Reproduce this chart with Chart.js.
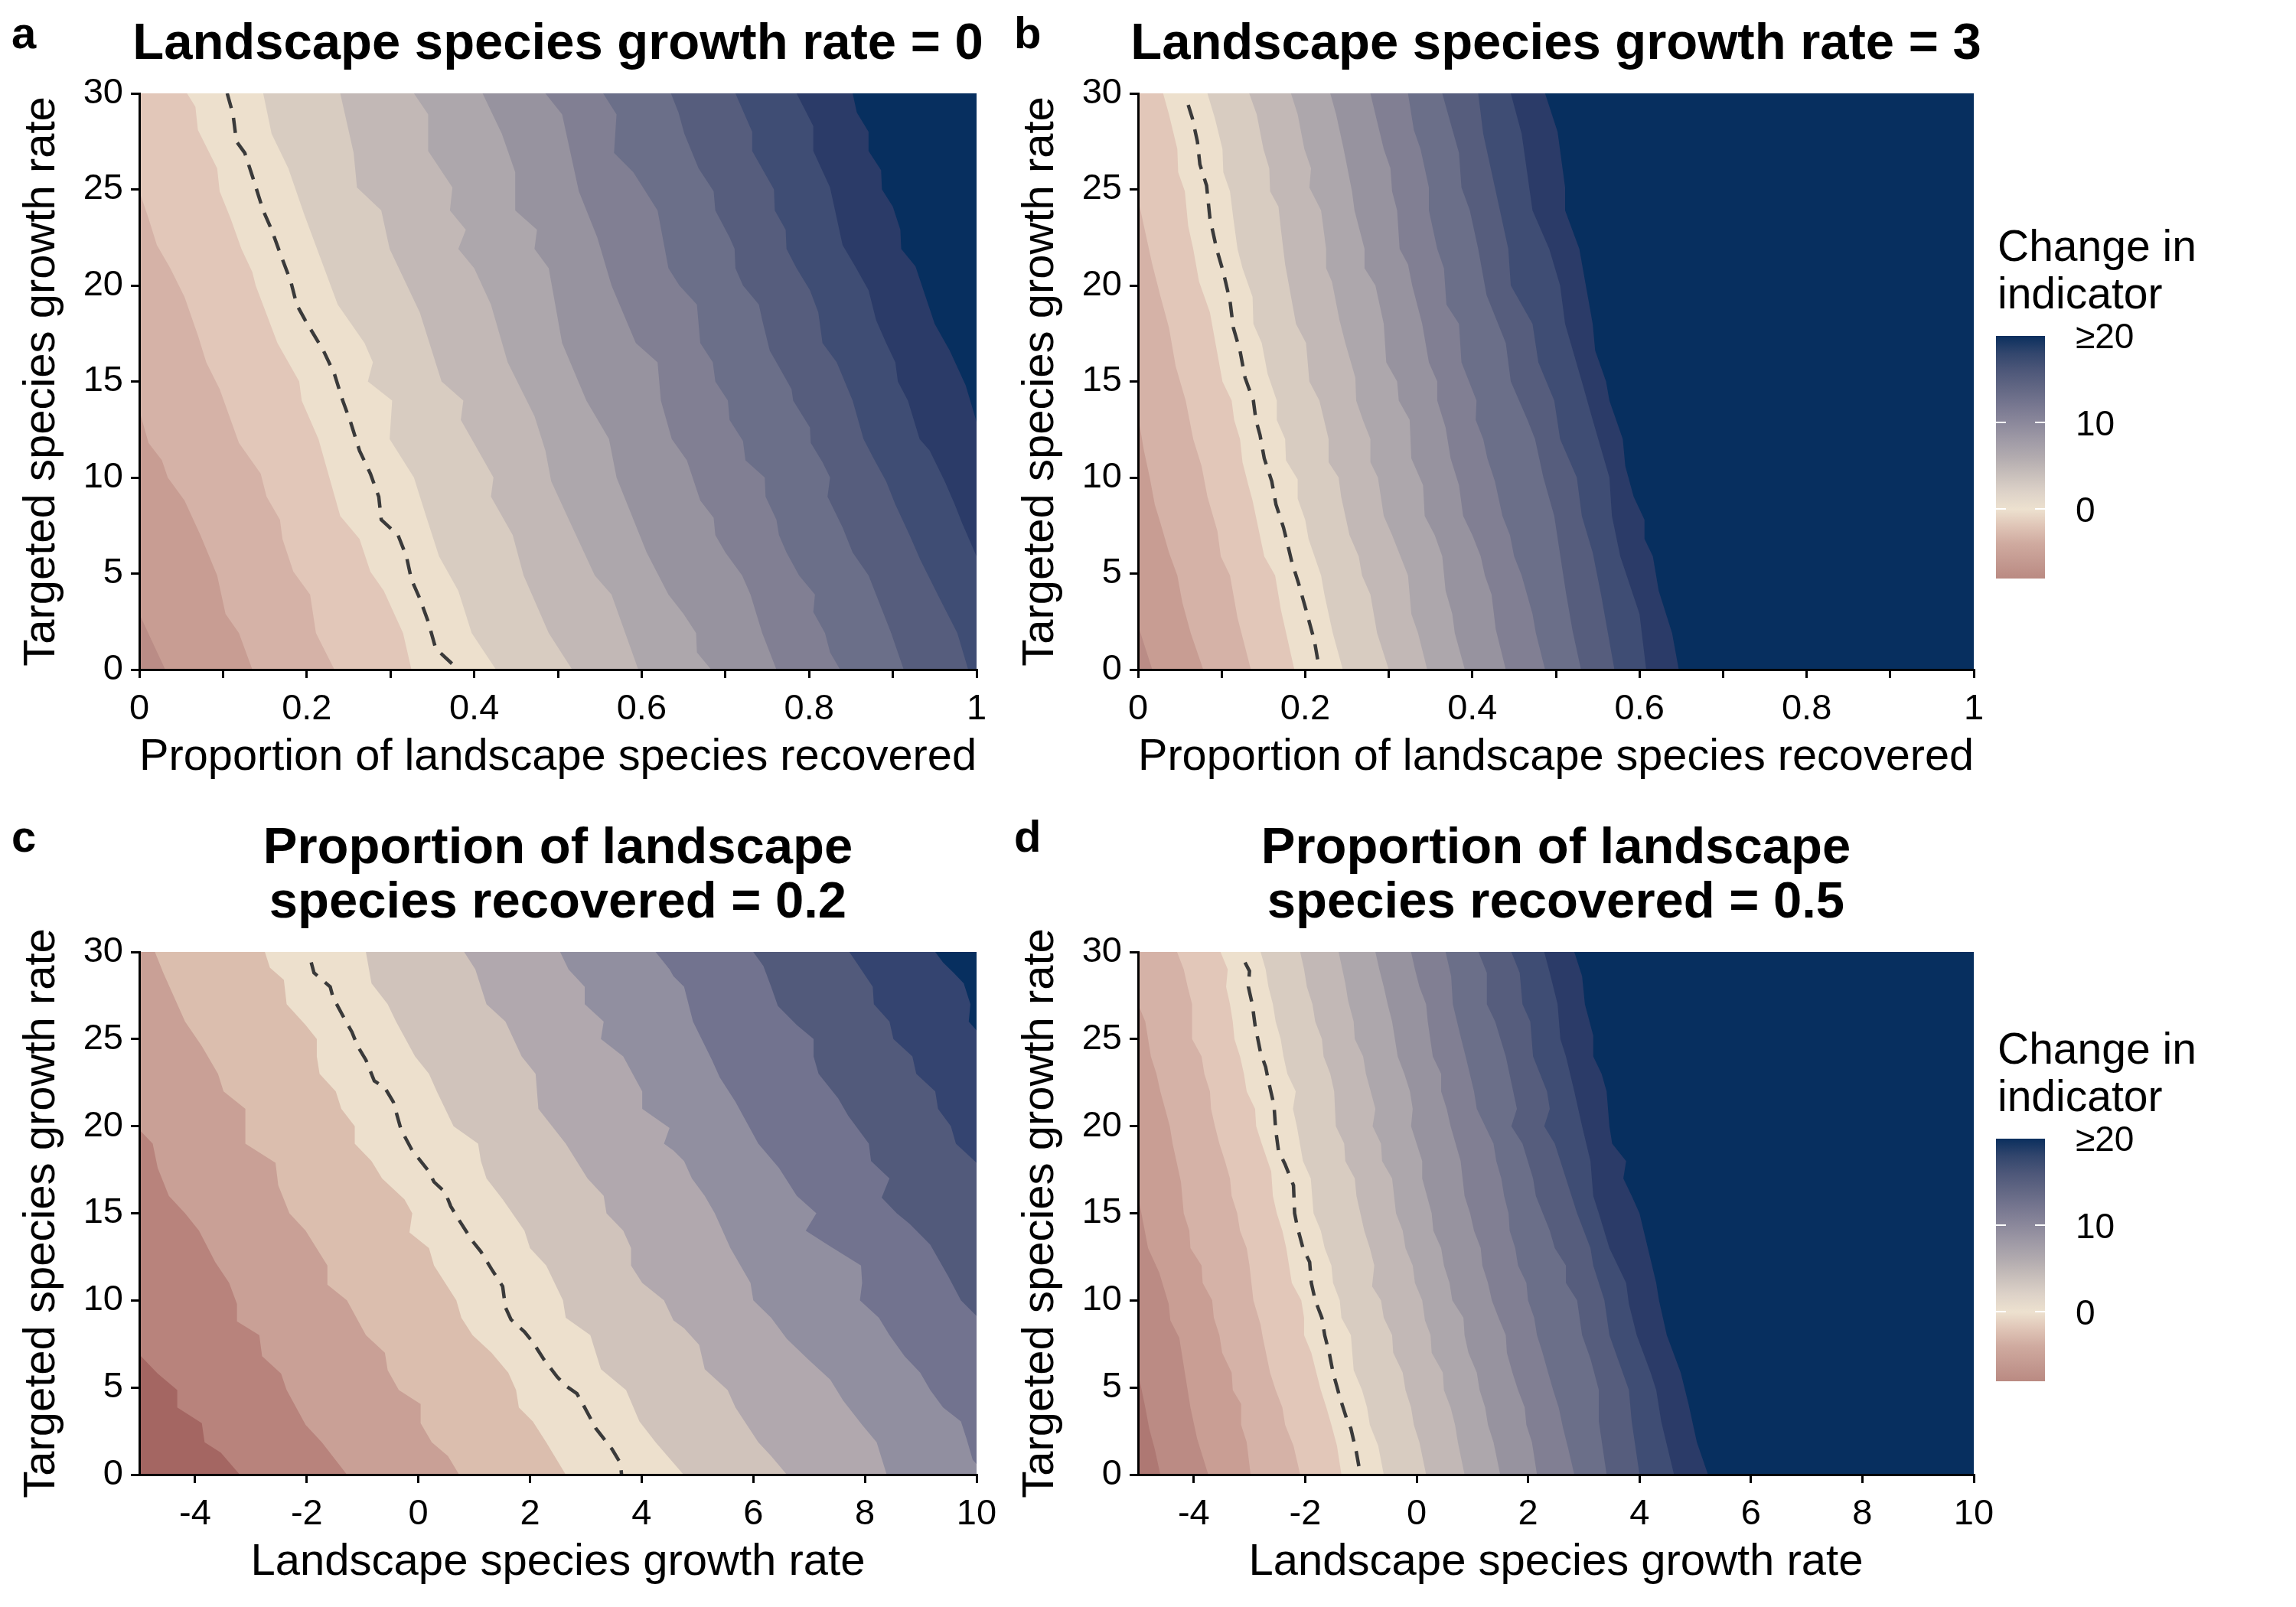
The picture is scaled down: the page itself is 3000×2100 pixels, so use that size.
<!DOCTYPE html>
<html>
<head>
<meta charset="utf-8">
<title>Change in indicator contour panels</title>
<script src="https://cdn.jsdelivr.net/npm/chart.js@4/dist/chart.umd.min.js"></script>
<style>
 html,body{margin:0;padding:0;background:#fff;}
 #root{position:relative;width:3000px;height:2100px;overflow:hidden;background:#fff;font-family:'Liberation Sans',Arial,Helvetica,sans-serif;color:#000;}
 #root canvas{position:absolute;}
 .t{position:absolute;white-space:nowrap;line-height:1;margin:0;}
 .b{font-weight:bold;}
</style>
</head>
<body>
<div id="root">
 <canvas id="cA" width="1330" height="1050" style="left:0px;top:0px"></canvas>
 <canvas id="cB" width="1330" height="1050" style="left:1305px;top:0px"></canvas>
 <canvas id="cC" width="1330" height="975" style="left:0px;top:1122px"></canvas>
 <canvas id="cD" width="1330" height="975" style="left:1305px;top:1122px"></canvas>

 <div class="t b" style="font-size:58px;left:15px;top:13.9px">a</div>
 <div class="t b" style="font-size:58px;left:1325px;top:13.9px">b</div>
 <div class="t b" style="font-size:58px;left:15px;top:1063.9px">c</div>
 <div class="t b" style="font-size:58px;left:1325px;top:1063.9px">d</div>

 <div class="t b" style="font-size:67px;left:29px;width:1400px;text-align:center;top:20.3px">Landscape species growth rate = 0</div>
 <div class="t b" style="font-size:67px;left:1333px;width:1400px;text-align:center;top:20.3px">Landscape species growth rate = 3</div>
 <div class="t b" style="font-size:67px;left:29px;width:1400px;text-align:center;top:1071.3px">Proportion of landscape</div>
 <div class="t b" style="font-size:67px;left:29px;width:1400px;text-align:center;top:1142.3px">species recovered = 0.2</div>
 <div class="t b" style="font-size:67px;left:1333px;width:1400px;text-align:center;top:1071.3px">Proportion of landscape</div>
 <div class="t b" style="font-size:67px;left:1333px;width:1400px;text-align:center;top:1142.3px">species recovered = 0.5</div>
</div>
<script>
// ---------------- axis ticks ----------------
const abXTicks = [0, 0.1, 0.2, 0.3, 0.4, 0.5, 0.6, 0.7, 0.8, 0.9, 1];
const abXTickLabels = ['0', '', '0.2', '', '0.4', '', '0.6', '', '0.8', '', '1'];
const cdXTicks = [-4, -2, 0, 2, 4, 6, 8, 10];
const cdXTickLabels = ['-4', '-2', '0', '2', '4', '6', '8', '10'];
const yTicks = [0, 5, 10, 15, 20, 25, 30];
const yTickLabels = ['0', '5', '10', '15', '20', '25', '30'];
const abXRange = [0, 1];
const cdXRange = [-5, 10];
const yRange = [0, 30];

// ---------------- band colours (low -> high) ----------------
const abBandColors = ['#BA8C86','#C89D93','#D5B2A7','#E2C7B9','#EDE0CD','#D8CCC1','#C2B8B6','#ADA7AC','#97939F','#817F93','#6B6F89','#565D7D','#3F4D74','#2B3B68','#072F5F'];
const cBandColors = ['#A46662','#B8837C','#C9A096','#DBBEAE','#EDE0CD','#D0C3BB','#B1A8AE','#918FA0','#72738F','#525A7B','#344470','#072F5F'];
const dBandColors = ['#AE7873','#BB8B84','#C99E94','#D5B2A7','#E2C7B9','#EDE0CD','#D8CCC1','#C2B8B6','#ADA7AC','#97939F','#817F93','#6B6F89','#565D7D','#3F4D74','#2B3B68','#072F5F'];

// ---------------- panel a: band boundaries [x, y], listed top -> bottom ----------------
const aBounds = [
 [[0,2.9],[0.031,0]],
 [[0,13.5],[0.011,11.8],[0.027,10.9],[0.034,10.0],[0.054,8.8],[0.073,7.0],[0.093,4.9],[0.103,2.9],[0.119,1.9],[0.135,0]],
 [[0,24.9],[0.011,23.5],[0.021,22.1],[0.037,20.9],[0.054,19.4],[0.070,17.4],[0.080,16.0],[0.096,14.6],[0.119,11.8],[0.145,10.2],[0.152,9.0],[0.168,7.8],[0.171,6.8],[0.184,5.1],[0.204,3.9],[0.211,1.9],[0.233,0]],
 [[0.057,30],[0.067,29.3],[0.070,28.1],[0.093,26.1],[0.096,24.9],[0.109,23.5],[0.122,21.9],[0.135,20.7],[0.139,20.0],[0.165,17.0],[0.191,15.0],[0.194,14.0],[0.214,12.0],[0.240,8.0],[0.263,6.8],[0.276,5.1],[0.292,4.1],[0.315,1.9],[0.325,0]],
 [[0.148,30],[0.158,27.9],[0.178,26.1],[0.197,23.7],[0.237,19.0],[0.269,17.0],[0.279,16.0],[0.273,15.0],[0.302,14.0],[0.299,12.0],[0.328,10.0],[0.341,8.2],[0.358,5.9],[0.381,4.1],[0.397,1.9],[0.426,0]],
 [[0.240,30],[0.256,26.9],[0.260,25.1],[0.289,23.9],[0.299,21.9],[0.335,18.6],[0.361,15.0],[0.387,14.0],[0.384,13.0],[0.397,12.0],[0.423,10.0],[0.420,9.0],[0.446,7.0],[0.459,4.9],[0.489,1.9],[0.517,0]],
 [[0.328,30],[0.345,28.9],[0.345,27.0],[0.374,25.1],[0.371,23.9],[0.390,22.9],[0.381,21.9],[0.400,20.9],[0.420,19.0],[0.440,16.0],[0.472,13.2],[0.485,11.4],[0.492,9.8],[0.511,8.0],[0.544,4.9],[0.564,3.9],[0.596,0]],
 [[0.410,30],[0.433,27.9],[0.449,25.9],[0.449,23.9],[0.475,22.9],[0.472,21.9],[0.489,20.9],[0.505,17.0],[0.534,14.0],[0.561,12.0],[0.570,10.0],[0.606,6.1],[0.632,3.9],[0.650,2.9],[0.665,1.9],[0.666,0.9],[0.683,0]],
 [[0.485,30],[0.505,28.9],[0.525,24.9],[0.547,22.5],[0.564,20.0],[0.593,17.0],[0.619,16.0],[0.623,14.0],[0.636,12.0],[0.654,10.9],[0.670,8.8],[0.686,7.9],[0.688,7.0],[0.700,6.1],[0.720,4.9],[0.730,3.9],[0.744,1.9],[0.761,0]],
 [[0.554,30],[0.570,28.9],[0.567,26.9],[0.590,25.9],[0.619,23.9],[0.632,20.9],[0.645,20.0],[0.666,19.0],[0.670,17.0],[0.685,16.0],[0.688,15.0],[0.703,14.0],[0.705,13.0],[0.721,11.9],[0.724,10.9],[0.747,10.0],[0.748,9.0],[0.761,7.8],[0.764,7.0],[0.773,6.1],[0.788,4.9],[0.807,3.9],[0.805,3.0],[0.819,1.9],[0.825,0.9],[0.837,0]],
 [[0.635,30],[0.644,29.0],[0.651,27.9],[0.668,26.1],[0.686,24.9],[0.688,23.9],[0.705,22.5],[0.711,21.9],[0.712,20.9],[0.721,20.0],[0.740,19.0],[0.744,18.2],[0.753,16.6],[0.761,16.0],[0.779,14.6],[0.781,14.0],[0.801,12.6],[0.802,11.8],[0.816,10.8],[0.825,10.0],[0.822,9.0],[0.840,7.4],[0.852,6.1],[0.871,4.9],[0.880,3.9],[0.898,1.9],[0.913,0]],
 [[0.712,30],[0.732,28.0],[0.732,27.0],[0.758,25.0],[0.759,23.9],[0.772,22.9],[0.773,21.9],[0.785,20.9],[0.801,19.75],[0.811,18.6],[0.816,17.0],[0.833,16.0],[0.852,14.0],[0.865,12.0],[0.877,11.0],[0.892,9.8],[0.903,8.6],[0.920,7.0],[0.933,5.7],[0.956,3.7],[0.977,1.9],[0.990,0]],
 [[0.785,30],[0.805,28.3],[0.805,27.0],[0.825,25.1],[0.831,23.9],[0.840,22.1],[0.855,21.0],[0.871,19.75],[0.880,18.2],[0.892,17.0],[0.903,16.0],[0.906,15.0],[0.918,14.0],[0.932,12.0],[0.944,11.4],[0.962,9.8],[0.974,8.6],[0.983,7.6],[1,5.9]],
 [[0.852,30],[0.857,29.0],[0.871,28.0],[0.871,27.0],[0.886,26.0],[0.887,25.0],[0.900,24.1],[0.909,22.9],[0.910,21.9],[0.927,21.0],[0.950,18.0],[0.968,16.6],[0.987,14.8],[1,12.9]]
];
const aZero = [[0.105,30],[0.112,28.9],[0.116,27.5],[0.126,26.9],[0.135,25.7],[0.148,23.9],[0.158,22.9],[0.168,21.7],[0.181,20.2],[0.188,19.0],[0.198,18.2],[0.220,16.6],[0.233,15.4],[0.243,14.0],[0.253,12.8],[0.263,11.4],[0.276,10.2],[0.286,9.0],[0.289,7.8],[0.309,7.0],[0.319,5.9],[0.325,4.7],[0.335,3.7],[0.345,2.5],[0.354,1.1],[0.381,0]];

// ---------------- panel b ----------------
const bBounds = [
 [[0,2.3],[0.017,0]],
 [[0,13.2],[0.007,11.4],[0.014,10.0],[0.020,8.6],[0.027,7.6],[0.037,6.1],[0.047,4.9],[0.053,3.5],[0.063,1.9],[0.078,0]],
 [[0,24.5],[0.007,23.1],[0.017,21.1],[0.027,19.4],[0.037,17.8],[0.045,15.8],[0.057,14.0],[0.066,12.0],[0.076,10.6],[0.083,9.0],[0.095,7.2],[0.099,5.9],[0.110,4.9],[0.119,2.7],[0.135,0]],
 [[0.030,30],[0.037,28.9],[0.047,27.1],[0.048,25.9],[0.056,24.9],[0.060,23.1],[0.066,21.9],[0.073,20.2],[0.086,18.6],[0.096,16.2],[0.101,15.0],[0.112,14.0],[0.115,13.0],[0.122,12.0],[0.125,10.8],[0.132,9.6],[0.137,8.8],[0.151,5.9],[0.164,4.9],[0.171,3.1],[0.187,0]],
 [[0.083,30],[0.092,28.7],[0.101,27.1],[0.102,25.9],[0.110,24.9],[0.114,23.5],[0.119,21.9],[0.125,20.9],[0.137,19.4],[0.138,18.0],[0.148,17.0],[0.155,15.4],[0.166,14.0],[0.166,13.0],[0.176,12.0],[0.177,10.9],[0.191,9.9],[0.191,8.9],[0.200,7.8],[0.204,6.8],[0.219,4.9],[0.223,3.9],[0.233,1.9],[0.245,0]],
 [[0.133,30],[0.142,28.9],[0.150,27.1],[0.157,26.1],[0.158,24.9],[0.168,24.1],[0.171,22.9],[0.176,21.1],[0.189,18.0],[0.201,17.0],[0.205,15.0],[0.217,14.0],[0.228,12.0],[0.228,10.8],[0.240,10.0],[0.243,9.0],[0.253,7.0],[0.264,5.9],[0.268,4.9],[0.278,3.9],[0.286,1.9],[0.300,0]],
 [[0.183,30],[0.191,28.9],[0.199,27.1],[0.207,26.1],[0.205,25.1],[0.219,23.9],[0.225,21.9],[0.225,20.9],[0.232,20.2],[0.241,18.2],[0.248,17.0],[0.260,15.2],[0.261,14.0],[0.269,13.0],[0.278,12.0],[0.278,10.8],[0.287,10.0],[0.294,8.0],[0.304,7.0],[0.314,5.9],[0.323,4.9],[0.327,2.9],[0.335,1.9],[0.346,0]],
 [[0.230,30],[0.237,28.9],[0.246,27.1],[0.256,24.9],[0.259,23.9],[0.271,21.9],[0.271,20.9],[0.284,20.0],[0.294,18.0],[0.297,16.0],[0.310,15.0],[0.312,14.0],[0.325,13.0],[0.327,11.0],[0.341,9.6],[0.343,8.0],[0.355,7.0],[0.364,5.9],[0.368,4.1],[0.376,2.9],[0.379,1.9],[0.391,0]],
 [[0.278,30],[0.284,28.9],[0.294,27.1],[0.302,26.1],[0.304,24.9],[0.310,23.9],[0.313,21.9],[0.323,21.1],[0.328,20.0],[0.340,18.0],[0.348,16.0],[0.358,15.0],[0.358,14.0],[0.368,12.6],[0.374,11.0],[0.384,9.6],[0.389,8.0],[0.400,7.0],[0.410,5.9],[0.415,4.9],[0.423,3.9],[0.428,2.1],[0.440,0]],
 [[0.323,30],[0.330,28.1],[0.338,27.1],[0.348,25.1],[0.348,23.9],[0.358,21.9],[0.366,20.9],[0.369,19.0],[0.384,18.0],[0.387,16.0],[0.405,14.0],[0.404,13.0],[0.413,12.0],[0.418,11.0],[0.427,9.8],[0.436,8.0],[0.445,7.0],[0.450,5.9],[0.459,4.9],[0.472,2.9],[0.476,1.9],[0.487,0]],
 [[0.364,30],[0.371,28.9],[0.384,26.9],[0.387,25.1],[0.397,23.9],[0.407,21.9],[0.417,19.5],[0.440,17.0],[0.446,15.0],[0.466,13.0],[0.475,12.0],[0.485,10.0],[0.498,8.0],[0.505,6.0],[0.512,4.0],[0.520,2.0],[0.530,0]],
 [[0.407,30],[0.413,27.9],[0.423,25.9],[0.433,23.9],[0.443,21.9],[0.446,20.0],[0.472,18.0],[0.479,16.0],[0.498,14.0],[0.505,12.0],[0.525,10.0],[0.531,8.0],[0.544,6.1],[0.554,3.9],[0.570,0]],
 [[0.446,30],[0.459,27.9],[0.472,23.9],[0.492,21.9],[0.505,20.0],[0.511,18.0],[0.531,15.0],[0.544,13.0],[0.564,10.0],[0.567,8.0],[0.577,5.9],[0.600,2.9],[0.608,0]],
 [[0.487,30],[0.502,28.0],[0.511,25.1],[0.511,23.9],[0.528,21.9],[0.544,18.0],[0.547,16.6],[0.560,15.0],[0.564,14.0],[0.580,12.0],[0.583,10.6],[0.593,9.0],[0.606,7.8],[0.606,6.8],[0.616,5.9],[0.623,4.1],[0.639,1.9],[0.647,0]]
];
const bZero = [[0.060,29.4],[0.065,28.7],[0.071,27.5],[0.074,26.3],[0.082,25.2],[0.086,23.5],[0.094,21.9],[0.102,20.7],[0.110,19.2],[0.114,17.8],[0.122,16.6],[0.128,15.2],[0.138,14.0],[0.141,13.0],[0.146,12.2],[0.151,11.0],[0.160,9.8],[0.165,8.6],[0.174,7.4],[0.178,6.7],[0.184,5.6],[0.192,4.5],[0.201,3.1],[0.211,1.5],[0.217,0]];

// ---------------- panel c ----------------
const cBounds = [
 [[-5,6.9],[-4.67,5.8],[-4.32,4.85],[-4.32,3.85],[-3.88,2.95],[-3.83,1.86],[-3.54,1.26],[-3.20,0]],
 [[-5,19.8],[-4.76,19.0],[-4.67,17.6],[-4.47,16.0],[-4.18,15.0],[-3.93,14.0],[-3.64,12.2],[-3.39,11.0],[-3.25,9.8],[-3.25,8.8],[-2.85,8.0],[-2.80,6.8],[-2.46,5.8],[-2.36,4.85],[-2.02,2.85],[-1.73,1.86],[-1.28,0]],
 [[-4.72,30],[-4.57,28.8],[-4.18,26.0],[-3.88,24.6],[-3.59,23.0],[-3.49,22.0],[-3.10,21.0],[-3.10,19.0],[-2.56,17.9],[-2.51,16.6],[-2.31,15.0],[-2.02,14.0],[-1.63,12.0],[-1.63,10.9],[-1.28,10.0],[-0.94,8.0],[-0.60,7.0],[-0.55,6.0],[-0.35,4.85],[0.04,4.05],[0.04,2.95],[0.24,1.86],[0.53,1.06],[0.73,0]],
 [[-2.75,30],[-2.66,29.1],[-2.41,28.4],[-2.36,27.0],[-2.02,25.8],[-1.82,25.0],[-1.82,24.0],[-1.77,23.0],[-1.48,22.0],[-1.38,21.0],[-1.14,20.0],[-1.14,19.0],[-0.84,18.0],[-0.65,17.0],[-0.25,15.8],[-0.11,15.0],[-0.16,13.9],[0.19,13.0],[0.28,12.0],[0.48,11.0],[0.68,10.0],[0.77,9.0],[0.97,8.0],[1.31,7.0],[1.61,5.85],[1.75,4.85],[1.80,3.85],[2.05,3.05],[2.29,1.86],[2.64,0]],
 [[-0.94,30],[-0.84,28.2],[-0.55,27.0],[-0.40,26.0],[-0.06,24.0],[0.19,23.0],[0.33,22.0],[0.63,20.0],[1.07,19.0],[1.12,18.0],[1.22,17.0],[1.51,15.8],[1.90,14.0],[2.00,13.0],[2.29,12.0],[2.59,10.0],[2.64,9.0],[3.08,8.0],[3.27,6.05],[3.72,4.85],[3.96,3.05],[4.25,1.86],[4.75,0]],
 [[0.82,30],[1.02,29.0],[1.22,27.0],[1.56,26.0],[1.85,24.0],[2.10,23.0],[2.15,21.0],[2.64,19.0],[3.03,17.0],[3.32,16.0],[3.37,15.0],[3.67,14.0],[3.81,13.0],[3.81,12.0],[4.01,11.0],[4.40,10.0],[4.57,8.85],[4.76,8.4],[5.03,7.45],[5.13,6.05],[5.54,4.85],[5.68,3.85],[6.09,1.86],[6.32,1.06],[6.60,0]],
 [[2.54,30],[2.69,29.0],[2.98,28.0],[2.98,27.0],[3.32,26.0],[3.27,25.0],[3.67,24.0],[4.01,22.0],[4.01,21.0],[4.50,19.9],[4.40,19.0],[4.57,18.6],[4.76,18.0],[4.90,17.0],[5.13,16.0],[5.31,15.0],[5.59,13.0],[5.95,11.0],[6.0,10.0],[6.32,9.0],[6.60,7.8],[6.97,6.65],[7.38,5.45],[7.61,4.25],[7.95,2.85],[8.21,1.86],[8.39,0]],
 [[4.25,30],[4.50,29.0],[4.57,28.6],[4.76,28.0],[4.92,26.0],[5.26,23.8],[5.40,22.8],[5.68,21.4],[6.09,19.0],[6.46,17.6],[6.78,16.0],[7.13,15.0],[6.94,14.0],[7.33,13.2],[7.93,12.0],[7.95,11.0],[7.91,10.0],[8.25,9.0],[8.44,8.0],[8.71,6.8],[8.99,5.85],[9.17,4.85],[9.40,3.85],[9.72,3.05],[9.82,2.06],[9.93,0.86],[10,0.6]],
 [[6.0,30],[6.18,29.2],[6.32,28.0],[6.44,26.9],[6.78,25.8],[7.08,25.0],[7.08,24.0],[7.17,23.0],[7.52,21.6],[7.70,20.6],[8.07,19.0],[8.11,18.0],[8.44,17.0],[8.30,15.9],[8.57,15.0],[8.80,14.4],[9.17,13.2],[9.49,11.4],[9.72,10.0],[10,9.1]],
 [[7.72,30],[7.89,29.2],[8.14,28.0],[8.16,27.0],[8.44,26.0],[8.51,25.0],[8.85,24.0],[8.92,23.0],[9.26,22.0],[9.31,21.0],[9.54,20.0],[9.63,19.0],[10,17.9]],
 [[9.26,30],[9.40,29.4],[9.59,28.8],[9.77,28.2],[9.89,27.0],[9.86,26.0],[10,25.5]]
];
const cZero = [[-1.92,29.4],[-1.87,28.8],[-1.58,28.0],[-1.53,27.4],[-1.33,26.2],[-1.19,25.4],[-1.09,24.6],[-0.94,23.8],[-0.79,22.6],[-0.60,22.2],[-0.45,21.4],[-0.31,19.8],[-0.11,18.6],[0.19,17.4],[0.28,16.8],[0.48,16.2],[0.58,15.4],[0.73,14.6],[0.97,13.4],[1.12,12.8],[1.31,11.8],[1.51,10.8],[1.56,9.6],[1.66,8.9],[1.90,8.2],[2.05,7.6],[2.25,6.6],[2.49,5.6],[2.64,5.1],[2.84,4.65],[2.98,3.85],[3.18,2.65],[3.47,1.46],[3.62,0.66],[3.64,0]];

// ---------------- panel d ----------------
const dBounds = [
 [[-5,5.85],[-4.87,3.85],[-4.80,2.65],[-4.70,1.46],[-4.60,0]],
 [[-5,16.0],[-4.82,13.0],[-4.62,11.6],[-4.45,9.8],[-4.42,8.85],[-4.26,7.85],[-4.16,5.85],[-4.06,3.85],[-3.94,2.06],[-3.74,0]],
 [[-5,27.0],[-4.87,26.0],[-4.77,24.0],[-4.67,23.0],[-4.60,22.0],[-4.43,20.0],[-4.38,19.0],[-4.23,16.8],[-4.18,15.0],[-4.08,14.0],[-4.06,13.0],[-3.86,12.0],[-3.84,11.0],[-3.67,10.0],[-3.64,9.0],[-3.54,8.0],[-3.49,7.0],[-3.32,5.85],[-3.30,4.85],[-3.15,4.05],[-3.15,2.85],[-3.05,1.86],[-2.98,0]],
 [[-4.30,30],[-4.18,29.0],[-4.11,28.0],[-4.03,27.0],[-4.03,25.0],[-3.86,24.0],[-3.81,23.0],[-3.71,22.0],[-3.69,21.0],[-3.62,20.0],[-3.54,19.0],[-3.44,18.0],[-3.35,17.0],[-3.32,16.0],[-3.22,15.0],[-3.17,14.0],[-3.05,13.0],[-3.00,12.0],[-2.93,10.0],[-2.80,8.6],[-2.76,7.85],[-2.63,5.85],[-2.53,4.85],[-2.41,3.85],[-2.36,2.85],[-2.21,1.66],[-2.09,0]],
 [[-3.52,30],[-3.39,29.0],[-3.42,28.0],[-3.35,27.0],[-3.30,26.0],[-3.27,25.0],[-3.17,24.0],[-3.10,23.0],[-3.05,22.0],[-2.90,21.0],[-2.88,20.0],[-2.78,19.0],[-2.61,17.4],[-2.58,16.0],[-2.51,15.0],[-2.41,14.0],[-2.34,13.0],[-2.24,11.0],[-2.07,10.0],[-2.02,9.0],[-2.02,8.0],[-1.89,7.0],[-1.80,5.85],[-1.72,4.85],[-1.62,3.85],[-1.53,2.85],[-1.43,1.66],[-1.35,0]],
 [[-2.80,30],[-2.71,29.0],[-2.66,28.0],[-2.58,27.0],[-2.53,26.0],[-2.44,25.0],[-2.39,24.0],[-2.32,23.0],[-2.17,22.0],[-2.22,21.0],[-2.15,20.0],[-2.04,18.0],[-1.90,17.0],[-1.85,15.0],[-1.72,14.0],[-1.65,13.0],[-1.53,12.0],[-1.50,11.0],[-1.38,10.0],[-1.35,9.0],[-1.18,8.0],[-1.13,6.0],[-0.98,4.85],[-0.89,3.85],[-0.84,2.85],[-0.69,1.66],[-0.59,0]],
 [[-2.09,30],[-2.02,29.0],[-1.97,28.0],[-1.87,27.0],[-1.82,26.0],[-1.70,25.0],[-1.67,24.0],[-1.55,23.0],[-1.48,22.0],[-1.45,20.0],[-1.30,19.0],[-1.28,18.0],[-1.11,17.0],[-1.08,16.0],[-1.01,15.0],[-0.94,14.0],[-0.84,13.0],[-0.76,12.0],[-0.80,10.8],[-0.64,10.0],[-0.59,9.0],[-0.44,8.0],[-0.42,7.0],[-0.25,5.85],[-0.20,4.85],[-0.10,3.85],[-0.05,2.85],[0.05,1.86],[0.17,0]],
 [[-1.40,30],[-1.28,28.2],[-1.23,27.2],[-1.13,26.0],[-1.11,25.0],[-0.96,24.0],[-0.91,23.0],[-0.74,21.0],[-0.79,20.0],[-0.64,19.0],[-0.62,18.0],[-0.44,17.0],[-0.37,15.0],[-0.25,14.0],[-0.20,13.0],[-0.07,12.0],[-0.03,11.0],[0.10,10.0],[0.15,8.85],[0.25,8.0],[0.27,7.0],[0.47,5.85],[0.49,4.85],[0.61,3.85],[0.69,2.85],[0.74,1.86],[0.86,0]],
 [[-0.74,30],[-0.67,29.0],[-0.59,28.0],[-0.52,27.0],[-0.44,26.0],[-0.34,24.0],[-0.22,23.0],[-0.12,22.0],[-0.07,21.0],[-0.10,20.0],[0.10,18.0],[0.10,17.0],[0.27,15.0],[0.30,14.0],[0.44,13.0],[0.49,12.0],[0.59,11.0],[0.64,10.0],[0.84,9.0],[0.86,8.0],[0.93,7.0],[1.08,5.85],[1.13,4.85],[1.23,3.85],[1.28,2.85],[1.38,1.86],[1.50,0]],
 [[-0.10,30],[-0.03,29.0],[0.05,28.0],[0.17,27.0],[0.20,26.0],[0.29,24.0],[0.44,23.0],[0.44,22.0],[0.54,21.0],[0.61,20.0],[0.79,18.0],[0.86,16.0],[0.96,15.0],[1.03,14.0],[1.15,13.0],[1.18,12.0],[1.28,11.0],[1.35,10.0],[1.47,9.0],[1.60,8.0],[1.62,7.0],[1.72,5.85],[1.82,4.85],[1.94,3.85],[1.97,2.85],[2.07,1.86],[2.16,0]],
 [[0.52,30],[0.62,28.6],[0.65,27.0],[0.80,25.0],[0.88,24.0],[1.03,22.0],[1.08,21.0],[1.23,20.0],[1.38,19.0],[1.43,18.0],[1.52,17.0],[1.57,16.0],[1.65,15.0],[1.67,14.0],[1.77,13.0],[1.82,12.0],[1.97,11.0],[2.00,10.0],[2.11,9.0],[2.16,8.0],[2.26,7.0],[2.36,5.85],[2.45,4.85],[2.55,3.85],[2.63,2.65],[2.72,1.5],[2.83,0]],
 [[1.11,30],[1.26,28.8],[1.26,27.0],[1.41,26.0],[1.60,24.0],[1.80,21.0],[1.70,20.0],[1.90,19.0],[2.09,17.0],[2.14,16.0],[2.39,14.0],[2.48,13.0],[2.68,12.0],[2.68,11.0],[2.88,10.0],[2.97,8.0],[3.12,6.65],[3.27,4.85],[3.27,3.05],[3.41,0]],
 [[1.70,30],[1.85,28.8],[1.90,27.0],[2.04,26.0],[2.09,24.0],[2.34,22.0],[2.39,21.0],[2.29,20.0],[2.48,19.0],[2.68,17.0],[2.78,16.0],[2.88,15.0],[3.12,13.0],[3.17,12.0],[3.27,11.0],[3.37,10.0],[3.46,8.0],[3.61,6.65],[3.81,4.85],[3.86,3.05],[4.00,0]],
 [[2.29,30],[2.39,28.8],[2.53,27.0],[2.58,25.0],[2.68,24.0],[2.83,22.0],[2.97,20.0],[3.12,18.0],[3.17,16.0],[3.27,15.0],[3.46,13.0],[3.76,11.0],[3.81,9.8],[3.95,8.0],[4.20,5.85],[4.30,4.85],[4.39,3.05],[4.62,0]],
 [[2.83,30],[2.97,28.6],[3.02,27.0],[3.17,25.2],[3.17,24.0],[3.32,23.0],[3.41,22.0],[3.46,20.0],[3.51,19.0],[3.76,18.0],[3.71,17.0],[3.86,16.0],[4.00,15.0],[4.15,13.0],[4.30,11.0],[4.35,10.0],[4.49,8.0],[4.74,5.85],[4.88,4.05],[5.03,1.86],[5.23,0]]
];
const dZero = [[-3.08,29.4],[-3.0,28.9],[-3.02,28.0],[-2.95,27.0],[-2.90,25.8],[-2.80,24.2],[-2.71,23.4],[-2.66,22.6],[-2.56,21.2],[-2.53,19.8],[-2.48,18.6],[-2.36,17.8],[-2.26,17.0],[-2.21,16.6],[-2.19,15.0],[-2.14,14.2],[-2.04,13.0],[-1.92,12.2],[-1.89,11.0],[-1.82,10.0],[-1.70,9.0],[-1.65,8.0],[-1.57,7.0],[-1.50,5.85],[-1.43,5.05],[-1.38,4.45],[-1.26,3.25],[-1.18,2.65],[-1.08,1.26],[-1.01,0]];

// ---------------- legend ----------------
const legendRange = [-8, 20];
const legendTickValues = [0, 10, 20];
const legendTickLabels = ['0', '10', '\u226520'];
const legendStops = [[-8,'#BA8A82'],[-6,'#C49A91'],[-4,'#CFAA9F'],[-2,'#DFC4B6'],[0,'#EDE1CF'],[2,'#DDD2C8'],[4,'#C8BFBB'],[6,'#B2ABAF'],[8,'#9F9AA6'],[10,'#8B889B'],[12,'#777790'],[14,'#626784'],[16,'#4D5779'],[18,'#32466D'],[20,'#0B2F5E']];

// =====================================================================
Chart.defaults.font.family = "'Liberation Sans', Arial, Helvetica, sans-serif";
Chart.defaults.color = '#000';
const XAXIS_H = 150;

function toPts(arr) { return arr.map(p => ({x: p[0], y: p[1]})); }

// polygon covering everything on the low-value side (left/below) of a boundary
function regionLeftOf(b, xr, yr) {
  const ex = xr[1] - xr[0], ey = yr[1] - yr[0];
  const XL = xr[0] - ex, XR = xr[1] + ex, YB = yr[0] - ey, YT = yr[1] + ey;
  const f = b[0], l = b[b.length - 1];
  const out = [{x: XL, y: YB}];
  if (f[1] >= yr[1]) { out.push({x: XL, y: YT}); out.push({x: f[0], y: YT}); }
  else { out.push({x: XL, y: f[1]}); }
  b.forEach(p => out.push({x: p[0], y: p[1]}));
  if (l[1] <= yr[0]) out.push({x: l[0], y: YB});
  else out.push({x: XR, y: l[1]});
  out.push({x: XR, y: YB});
  return out;
}
function fullRect(xr, yr) {
  const ex = xr[1] - xr[0], ey = yr[1] - yr[0];
  return [{x: xr[0] - ex, y: yr[0] - ey}, {x: xr[0] - ex, y: yr[1] + ey}, {x: xr[1] + ex, y: yr[1] + ey}, {x: xr[1] + ex, y: yr[0] - ey}];
}

function makePanel(id, s) {
  const datasets = [];
  datasets.push({data: toPts(s.zero), showLine: true, fill: false, borderColor: '#3a3a3a', borderWidth: 4.5,
                 borderDash: [20, 13], pointRadius: 0, pointHoverRadius: 0});
  s.bounds.forEach((b, i) => datasets.push({data: regionLeftOf(b, s.xr, s.yr), showLine: true, fill: 'shape',
                 backgroundColor: s.colors[i], borderColor: 'rgba(0,0,0,0)', borderWidth: 0, pointRadius: 0, pointHoverRadius: 0}));
  datasets.push({data: fullRect(s.xr, s.yr), showLine: true, fill: 'shape', backgroundColor: s.colors[s.colors.length - 1],
                 borderColor: 'rgba(0,0,0,0)', borderWidth: 0, pointRadius: 0, pointHoverRadius: 0});
  const axisCommon = {
    grid: {display: true, drawOnChartArea: false, drawTicks: true, tickLength: 11, color: '#000', tickColor: '#000', lineWidth: 3, tickWidth: 3, z: 1},
    border: {display: true, color: '#000', width: 3, z: 1}
  };
  new Chart(document.getElementById(id), {
    type: 'scatter',
    data: {datasets},
    options: {
      responsive: false, maintainAspectRatio: false, animation: false, devicePixelRatio: 1, events: [],
      layout: {padding: {left: 0, top: s.area.top, right: s.W - s.area.right, bottom: s.H - s.area.bottom - XAXIS_H}},
      plugins: {legend: {display: false}, tooltip: {enabled: false}, title: {display: false}},
      scales: {
        x: Object.assign({}, axisCommon, {
          type: 'linear', position: 'bottom', min: s.xr[0], max: s.xr[1],
          afterBuildTicks: sc => { sc.ticks = s.xTicks.map(v => ({value: v})); },
          afterFit: sc => { sc.height = XAXIS_H; },
          ticks: {autoSkip: false, maxRotation: 0, minRotation: 0, padding: 13, color: '#000', font: {size: 47},
                  callback: (v, i) => s.xLabels[i]},
          title: {display: true, text: s.xTitle, color: '#000', font: {size: 58}, padding: {top: 0, bottom: 0}}
        }),
        y: Object.assign({}, axisCommon, {
          type: 'linear', position: 'left', min: s.yr[0], max: s.yr[1],
          afterBuildTicks: sc => { sc.ticks = yTicks.map(v => ({value: v})); },
          afterFit: sc => { sc.width = s.area.left; },
          ticks: {autoSkip: false, padding: 10, color: '#000', font: {size: 47}, callback: (v, i) => yTickLabels[i]},
          title: {display: true, text: 'Targeted species growth rate', color: '#000', font: {size: 58}, padding: {top: 20, bottom: 0}}
        })
      }
    }
  });
}

const xTitleAB = 'Proportion of landscape species recovered';
const xTitleCD = 'Landscape species growth rate';
makePanel('cA', {W: 1330, H: 1050, area: {left: 182, top: 122, right: 1276, bottom: 875}, xr: abXRange, yr: yRange,
  xTicks: abXTicks, xLabels: abXTickLabels, xTitle: xTitleAB, bounds: aBounds, colors: abBandColors, zero: aZero});
makePanel('cB', {W: 1330, H: 1050, area: {left: 182, top: 122, right: 1274, bottom: 875}, xr: abXRange, yr: yRange,
  xTicks: abXTicks, xLabels: abXTickLabels, xTitle: xTitleAB, bounds: bBounds, colors: abBandColors, zero: bZero});
makePanel('cC', {W: 1330, H: 975, area: {left: 182, top: 122, right: 1276, bottom: 805}, xr: cdXRange, yr: yRange,
  xTicks: cdXTicks, xLabels: cdXTickLabels, xTitle: xTitleCD, bounds: cBounds, colors: cBandColors, zero: cZero});
makePanel('cD', {W: 1330, H: 975, area: {left: 182, top: 122, right: 1274, bottom: 805}, xr: cdXRange, yr: yRange,
  xTicks: cdXTicks, xLabels: cdXTickLabels, xTitle: xTitleCD, bounds: dBounds, colors: dBandColors, zero: dZero});

// ---------------- colour-bar legends ----------------
function makeLegend(barTop) {
  const root = document.getElementById('root');
  const barLeft = 2608, barW = 64, barH = 317.5;
  const span = legendRange[1] - legendRange[0];
  const vy = v => barTop + barH - (v - legendRange[0]) / span * barH;
  const add = (css, text) => { const d = document.createElement('div'); d.style.cssText = css; if (text != null) d.textContent = text; root.appendChild(d); return d; };
  add('position:absolute;font-size:57px;line-height:1;white-space:nowrap;left:2610px;top:' + (barTop - 97.5 - 48.25) + 'px', 'Change in');
  add('position:absolute;font-size:57px;line-height:1;white-space:nowrap;left:2610px;top:' + (barTop - 35.5 - 48.25) + 'px', 'indicator');
  const grad = 'linear-gradient(to top,' + legendStops.map(s => s[1] + ' ' + ((s[0] - legendRange[0]) / span * 100).toFixed(2) + '%').join(',') + ')';
  add('position:absolute;left:' + barLeft + 'px;top:' + barTop + 'px;width:' + barW + 'px;height:' + barH + 'px;background:' + grad);
  legendTickValues.forEach((v, i) => {
    const y = vy(v);
    if (v < legendRange[1]) {
      add('position:absolute;background:#fff;height:2px;width:13px;left:' + barLeft + 'px;top:' + (y - 1) + 'px');
      add('position:absolute;background:#fff;height:2px;width:13px;left:' + (barLeft + barW - 13) + 'px;top:' + (y - 1) + 'px');
    }
    add('position:absolute;font-size:46px;line-height:1;white-space:nowrap;left:2712px;top:' + (y + 16.8 - 38.9) + 'px', legendTickLabels[i]);
  });
}
makeLegend(438.5);
makeLegend(1487.5);
</script>
</body>
</html>
